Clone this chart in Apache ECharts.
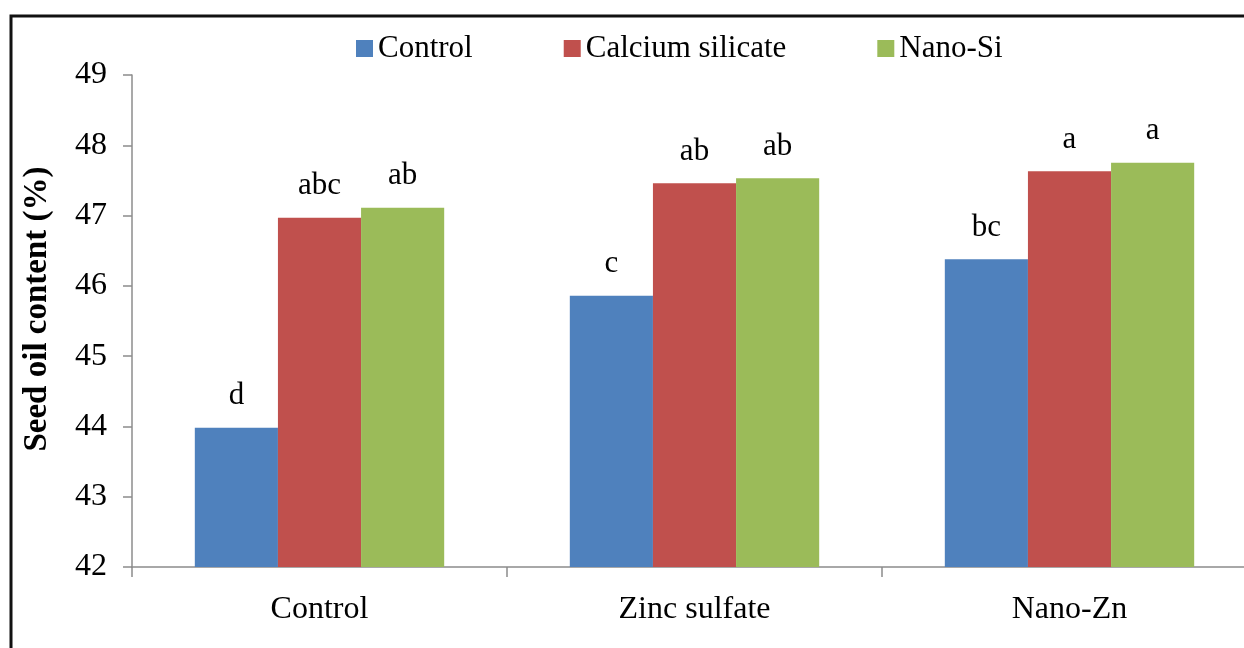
<!DOCTYPE html>
<html>
<head>
<meta charset="utf-8">
<script src="https://cdn.jsdelivr.net/npm/echarts@6/dist/echarts.min.js"></script>
<style>
  html, body { margin: 0; padding: 0; overflow: hidden; background: #fff; }
  #seedOilChart { width: 1270px; height: 648px; }
</style>
</head>
<body>
<div id="seedOilChart"></div>
<script>
// groups on the x axis
var categories = ['Control', 'Zinc sulfate', 'Nano-Zn']
var seriesNames = ['Control', 'Calcium silicate', 'Nano-Si']
// seed oil content (%)
var controlData = [43.98, 45.86, 46.38]
var calciumData = [46.97, 47.46, 47.63]
var nanoSiData = [47.11, 47.53, 47.75]
// letters of significance over each bar
var controlLetters = ['d', 'c', 'bc']
var calciumLetters = ['abc', 'ab', 'a']
var nanoSiLetters = ['ab', 'ab', 'a']
var yTicks = [42, 43, 44, 45, 46, 47, 48, 49]

var serif = '"Liberation Serif", "Times New Roman", serif'
var colors = ['#4F81BD', '#C0504D', '#9BBB59']

function makeSeries (name, data, letters, color) {
  return {
    name: name,
    type: 'bar',
    data: data,
    barGap: '0%',
    barCategoryGap: '33.5%',
    itemStyle: { color: color },
    label: {
      show: true,
      position: 'top',
      distance: 16,
      fontFamily: serif,
      fontSize: 31,
      color: '#000',
      formatter: function (p) { return letters[p.dataIndex] }
    }
  }
}

let myChart = echarts.init(document.getElementById('seedOilChart'))
myChart.setOption({
  animation: false,
  color: colors,
  textStyle: { fontFamily: serif },
  legend: {
    left: 351,
    top: 28,
    itemWidth: 17,
    itemHeight: 17,
    itemGap: 91,
    icon: 'rect',
    data: seriesNames,
    textStyle: { fontFamily: serif, fontSize: 31, color: '#000' }
  },
  grid: {
    left: 132,
    right: 13,
    top: 75,
    bottom: 81,
    containLabel: false
  },
  xAxis: {
    type: 'category',
    data: categories,
    axisLine: { lineStyle: { color: '#8c8c8c', width: 1.5 } },
    axisTick: { show: true, length: 10, lineStyle: { color: '#8c8c8c', width: 1.5 } },
    axisLabel: { fontFamily: serif, fontSize: 32, color: '#000', margin: 27 }
  },
  yAxis: {
    type: 'value',
    min: yTicks[0],
    max: yTicks[yTicks.length - 1],
    interval: 1,
    splitLine: { show: false },
    axisLine: { show: true, lineStyle: { color: '#8c8c8c', width: 1.5 } },
    axisTick: { show: true, length: 9, lineStyle: { color: '#8c8c8c', width: 1.5 } },
    axisLabel: { fontFamily: serif, fontSize: 32, color: '#000', margin: 25 }
  },
  graphic: [
    {
      type: 'polyline',
      shape: { points: [[11, 660], [11, 16], [1270, 16]] },
      style: { stroke: '#111', lineWidth: 3, fill: null }
    },
    {
      type: 'text',
      x: 37,
      y: 309,
      rotation: Math.PI / 2,
      style: {
        text: 'Seed oil content (%)',
        fontFamily: serif,
        fontWeight: 'bold',
        fontSize: 33,
        fill: '#000',
        align: 'center',
        verticalAlign: 'middle'
      }
    }
  ],
  series: [
    makeSeries(seriesNames[0], controlData, controlLetters, colors[0]),
    makeSeries(seriesNames[1], calciumData, calciumLetters, colors[1]),
    makeSeries(seriesNames[2], nanoSiData, nanoSiLetters, colors[2])
  ]
})
</script>
</body>
</html>
